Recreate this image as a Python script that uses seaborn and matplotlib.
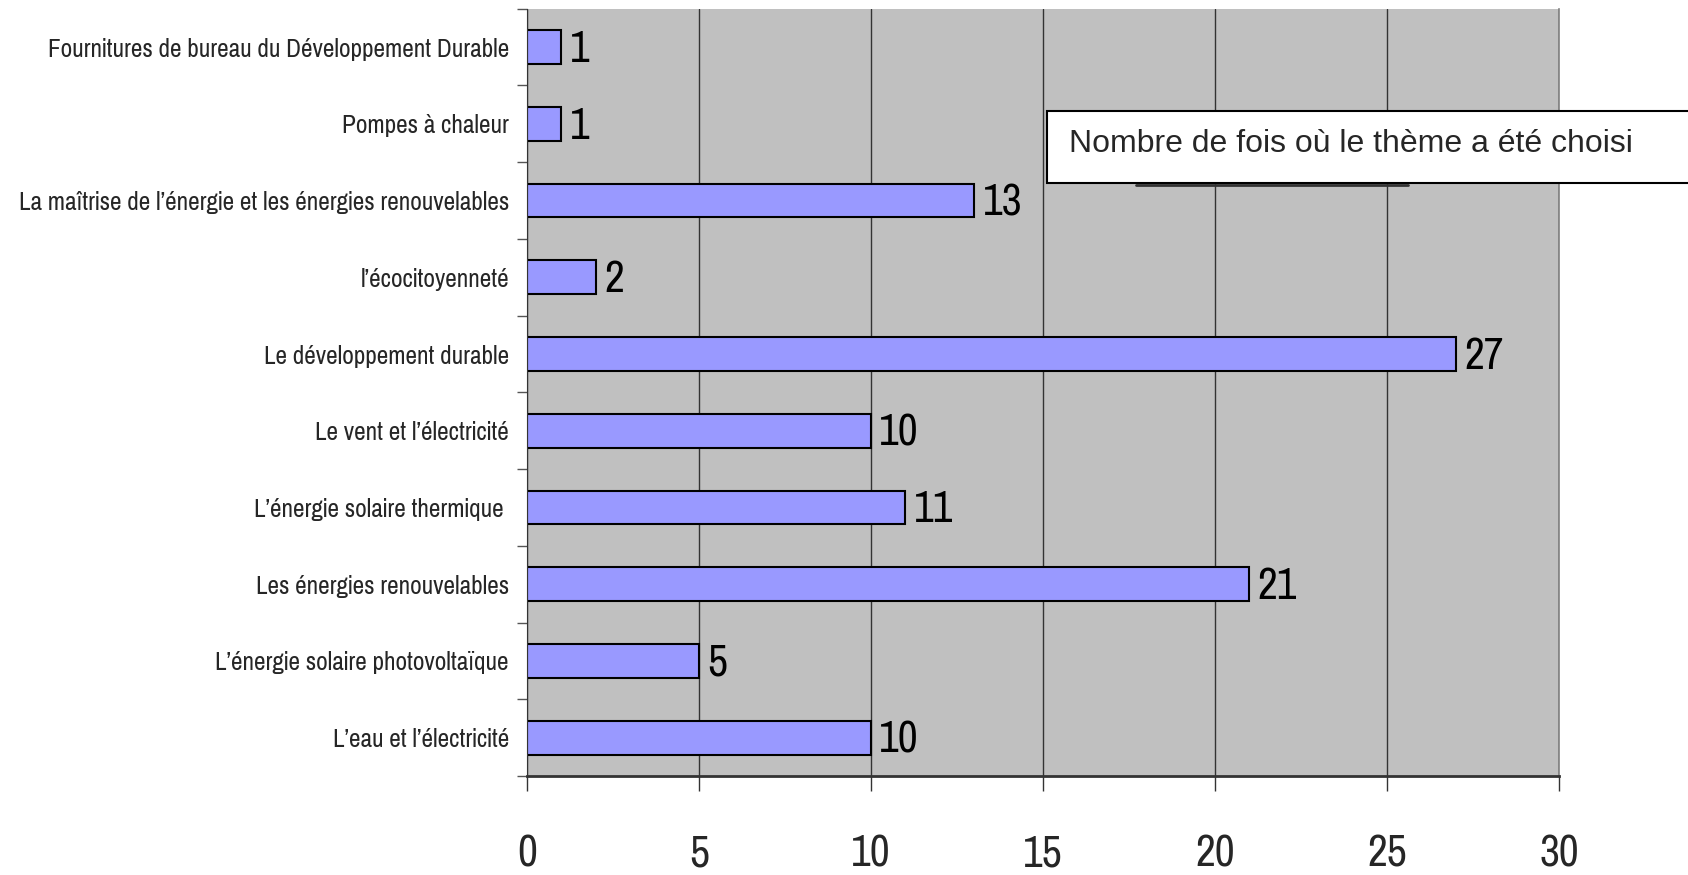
import matplotlib
matplotlib.use("Agg")
import matplotlib.pyplot as plt
import seaborn as sns
import pandas as pd
from matplotlib.patches import Rectangle
from matplotlib.lines import Line2D

# data, top to bottom as in the chart
themes = [
    "Fournitures de bureau du Développement Durable",
    "Pompes à chaleur",
    "La maîtrise de l’énergie et les énergies renouvelables",
    "l’écocitoyenneté",
    "Le développement durable",
    "Le vent et l’électricité",
    "L’énergie solaire thermique ",
    "Les énergies renouvelables",
    "L’énergie solaire photovoltaïque",
    "L’eau et l’électricité",
]
counts = [1, 1, 13, 2, 27, 10, 11, 21, 5, 10]
x_ticks = [0, 5, 10, 15, 20, 25, 30]
legend_label = "Nombre de fois où le thème a été choisi"

narrow = ["Pragati Narrow", "DejaVu Sans"]
regular = ["Liberation Sans", "DejaVu Sans"]

sns.set_style("white")
plt.rcParams["font.family"] = narrow

df = pd.DataFrame({"theme": themes, "count": counts})

fig = plt.figure(figsize=(16.88, 8.75), dpi=100)
ax = fig.add_axes([0.3122, 0.1131, 0.6114, 0.8769])
ax.set_facecolor("#C0C0C0")

sns.barplot(data=df, x="count", y="theme", orient="h", color="#9999FF",
            saturation=1, edgecolor="black", linewidth=1.5, width=0.44, ax=ax)

ax.set_xlim(0, 30)
ax.set_ylim(len(themes) - 0.5, -0.5)
ax.set_xticks(x_ticks)
ax.set_xticklabels([str(t) for t in x_ticks], fontsize=34)
ax.tick_params(axis="x", bottom=True, length=11, width=1, color="#333333",
               pad=31, direction="out")
ax.set_yticks(range(len(themes)))
ax.set_yticklabels(themes, fontsize=19.8)
ax.tick_params(axis="y", which="major", left=False, length=0, pad=13)
ax.set_yticks([i - 0.5 for i in range(len(themes) + 1)], minor=True)
ax.tick_params(axis="y", which="minor", left=True, length=7, width=1,
               color="#555555", direction="out")
ax.set_xlabel("")
ax.set_ylabel("")

# vertical gridlines
ax.xaxis.grid(True, color="#333333", linewidth=1)
ax.set_axisbelow(True)

ax.spines["top"].set_visible(False)
ax.spines["right"].set_color("#808080")
ax.spines["right"].set_linewidth(1.2)
ax.spines["left"].set_color("#333333")
ax.spines["bottom"].set_color("#333333")
ax.spines["bottom"].set_linewidth(2)

for i, v in enumerate(counts):
    ax.annotate(str(v), xy=(v, i), xytext=(6, -2), textcoords="offset points",
                ha="left", va="center", fontsize=34, color="black")

# legend box (runs off the right edge), with the shadow line below it
fig.add_artist(Line2D([1136 / 1688, 1408 / 1688], [1 - 185 / 875, 1 - 185 / 875],
                      transform=fig.transFigure, color="#333333", linewidth=2, zorder=4))
fig.patches.append(Rectangle((1047 / 1688, 1 - 183 / 875), 0.5, 72 / 875,
                             transform=fig.transFigure, facecolor="white",
                             edgecolor="black", linewidth=1.5, zorder=5))
fig.text(1069 / 1688, 1 - 144 / 875, legend_label, fontsize=23,
         family=regular, ha="left", va="center", zorder=6)

fig.savefig("out.png", dpi=100)
